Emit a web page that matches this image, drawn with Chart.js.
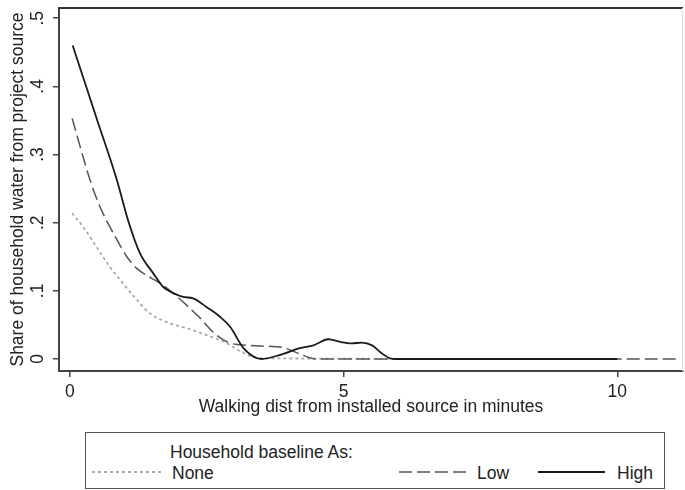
<!DOCTYPE html>
<html>
<head>
<meta charset="utf-8">
<script src="https://cdn.jsdelivr.net/npm/chart.js@4.4.1/dist/chart.umd.min.js"></script>
<style>
  html, body { margin:0; padding:0; background:#fff; }
  #wrap { position:relative; width:685px; height:490px; font-family:"Liberation Sans", Arial, sans-serif; color:#222; }
  #chart { position:absolute; left:0; top:0; }
  #legend { position:absolute; left:85px; top:432px; width:580px; height:57px; box-sizing:border-box; border:1.5px solid #555; background:#fff; }
  #legend .t { position:absolute; font-size:17.5px; line-height:20px; white-space:nowrap; }
  #legend svg { position:absolute; }
</style>
</head>
<body>
<div id="wrap">
  <canvas id="chart" width="685" height="490"></canvas>
  <div id="legend">
    <span class="t" style="left:84px; top:9px;">Household baseline As:</span>
    <svg style="left:6px; top:35px;" width="70" height="8"><line x1="0" y1="4" x2="70" y2="4" stroke="#aaa" stroke-width="1.8" stroke-dasharray="3,3"/></svg>
    <span class="t" style="left:86px; top:30px;">None</span>
    <svg style="left:313px; top:35px;" width="67" height="8"><line x1="0" y1="4" x2="67" y2="4" stroke="#555" stroke-width="1.5" stroke-dasharray="13,5"/></svg>
    <span class="t" style="left:391px; top:30px;">Low</span>
    <svg style="left:452px; top:35px;" width="67" height="8"><line x1="0" y1="4" x2="67" y2="4" stroke="#1a1a1a" stroke-width="1.8"/></svg>
    <span class="t" style="left:531px; top:30px;">High</span>
  </div>
</div>
<script>
// curves: distance in minutes / share of water
const noneX = [0.04, 0.24, 0.49, 0.73, 0.97, 1.22, 1.46, 1.77, 2.14, 2.5, 2.87, 3.1, 3.47, 10];
const noneY = [0.214, 0.194, 0.164, 0.135, 0.111, 0.087, 0.067, 0.054, 0.045, 0.035, 0.023, 0.012, 0.001, 0];

const lowX = [0.04, 0.37, 0.55, 0.79, 1.04, 1.22, 1.46, 1.65, 1.88, 2.13, 2.38, 2.62, 2.9, 3.1, 3.5, 3.88, 4.15, 4.5, 11.1];
const lowY = [0.353, 0.262, 0.223, 0.185, 0.15, 0.133, 0.12, 0.111, 0.097, 0.079, 0.06, 0.039, 0.024, 0.021, 0.019, 0.017, 0.009, 0, 0];

const highX = [0.05, 0.5, 0.86, 1.06, 1.28, 1.52, 1.7, 1.88, 2.07, 2.25, 2.5, 2.74, 2.93, 3.17, 3.5, 3.84, 4.2, 4.45, 4.72, 4.94, 5.15, 5.33, 5.52, 5.67, 5.85, 5.97, 10];
const highY = [0.46, 0.35, 0.262, 0.204, 0.155, 0.126, 0.106, 0.097, 0.091, 0.089, 0.076, 0.062, 0.047, 0.016, 0, 0.006, 0.016, 0.02, 0.029, 0.025, 0.023, 0.024, 0.02, 0.01, 0.001, 0, 0];

const xTicks = [0, 5, 10];
const yTicks = [0, 0.1, 0.2, 0.3, 0.4, 0.5];
const yTickLabels = ['0', '.1', '.2', '.3', '.4', '.5'];

const pts = (xs, ys) => xs.map((x, i) => ({ x: x, y: ys[i] }));

const FONT = { family: '"Liberation Sans", Arial, sans-serif', size: 17.5 };
const AXIS = '#444';

// top + right edge of the plot box
const frame = {
  id: 'frame',
  afterDraw(chart){
    const a = chart.chartArea, c = chart.ctx;
    c.save();
    c.strokeStyle = '#333'; c.lineWidth = 2;
    c.beginPath(); c.moveTo(a.left - 1, a.top); c.lineTo(a.right, a.top); c.stroke();
    c.strokeStyle = '#ddd'; c.lineWidth = 1;
    c.beginPath(); c.moveTo(a.right - 0.5, a.top); c.lineTo(a.right - 0.5, a.bottom); c.stroke();
    c.restore();
  }
};

new Chart(document.getElementById('chart'), {
  type: 'line',
  data: {
    datasets: [
      { label:'None', data: pts(noneX, noneY), borderColor:'#aaa', borderWidth:1.8, borderDash:[3,3], order:3 },
      { label:'Low', data: pts(lowX, lowY), borderColor:'#555', borderWidth:1.5, borderDash:[13,5], order:2 },
      { label:'High', data: pts(highX, highY), borderColor:'#1a1a1a', borderWidth:1.8, order:1 }
    ]
  },
  options: {
    responsive:false, animation:false,
    layout:{ padding:{ left:3.5, top:8, right:2, bottom:68.5 } },
    elements:{ point:{ radius:0 }, line:{ cubicInterpolationMode:'monotone', fill:false } },
    plugins:{ legend:{ display:false }, tooltip:{ enabled:false } },
    scales:{
      x:{
        type:'linear', min:-0.2, max:11.2,
        afterBuildTicks: s => { s.ticks = xTicks.map(v => ({ value:v })); },
        afterFit: s => { s.height = 50.5; s.paddingLeft = 0; s.paddingRight = 0; },
        ticks:{ font:FONT, color:'#222', padding:5, maxRotation:0, callback: v => String(v) },
        grid:{ drawOnChartArea:false, drawTicks:true, tickLength:6, color:AXIS, lineWidth:1.5 },
        border:{ display:true, color:AXIS, width:2 },
        title:{ display:true, text:'Walking dist from installed source in minutes', font:FONT, color:'#222' }
      },
      y:{
        type:'linear', min:-0.0176, max:0.515,
        afterBuildTicks: s => { s.ticks = yTicks.map(v => ({ value:v })); },
        afterFit: s => { s.width = 55.5; s.paddingTop = 0; s.paddingBottom = 0; },
        ticks:{ font:FONT, color:'#222', padding:8, minRotation:90, maxRotation:90, crossAlign:'center',
          callback: v => yTickLabels[yTicks.findIndex(t => Math.abs(t - v) < 1e-9)] },
        grid:{ drawOnChartArea:false, drawTicks:true, tickLength:6, color:AXIS, lineWidth:1.5 },
        border:{ display:true, color:AXIS, width:2 },
        title:{ display:true, text:'Share of household water from project source', font:FONT, color:'#222' }
      }
    }
  },
  plugins:[frame]
});
</script>
</body>
</html>
